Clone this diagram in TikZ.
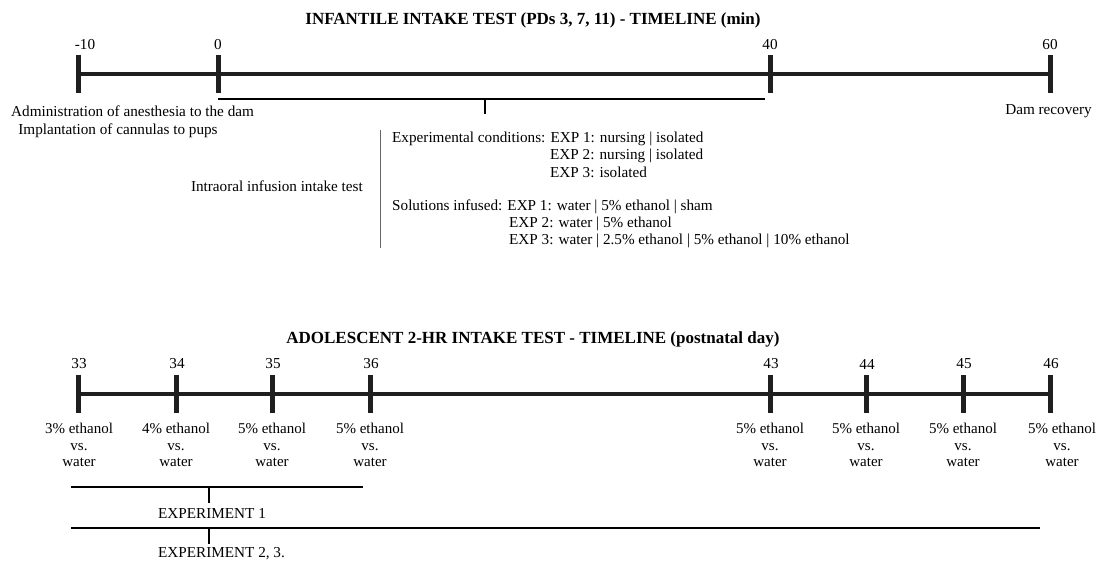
\documentclass[tikz,border=0pt]{standalone}
\usepackage{fontspec}
\setmainfont{Liberation Serif}
\begin{document}
\begin{tikzpicture}[x=1pt,y=-1pt,
  tickn/.style={rectangle, fill=black!88, draw=none, minimum width=5pt, minimum height=38pt, inner sep=0pt},
  axis/.style={line width=4.5pt, draw=black!88},
  bracket/.style={line width=2.2pt, draw=black},
  thin/.style={line width=2pt, draw=black},
  sep/.style={line width=0.8pt, draw=black!60},
  lbl/.style={font=\fontsize{15.2}{17}\selectfont, inner sep=0pt},
  small/.style={font=\fontsize{15.2}{17}\selectfont, inner sep=0pt},
  ttl/.style={font=\fontsize{17}{19}\selectfont\bfseries, inner sep=0pt},
  three/.style={font=\fontsize{15}{16.5}\selectfont, inner sep=0pt, align=center, anchor=north}]
\useasboundingbox (0,0) rectangle (1097,562);

% ---------- Infantile timeline ----------
\node[ttl] (t1) at (533,20) {INFANTILE INTAKE TEST (PDs 3, 7, 11) - TIMELINE (min)};
\node[tickn] (a1) at (78,74) {};
\node[tickn] (a2) at (218,74) {};
\node[tickn] (a3) at (770,74) {};
\node[tickn] (a4) at (1050,74) {};
\draw[axis] (a1.center) -- (a4.center);
\node[lbl] (n1) at (85,45) {-10};
\node[lbl] (n2) at (218,45) {0};
\node[lbl] (n3) at (770,45) {40};
\node[lbl] (n4) at (1050,45) {60};
\node[lbl, anchor=west] (adm) at (11,111) {Administration of anesthesia to the dam};
\node[lbl] (imp) at (118,131) {Implantation of cannulas to pups};
\node[lbl, anchor=east] (dam) at (1092,111) {Dam recovery};

\coordinate (b1) at (218,99);
\coordinate (b2) at (765,99);
\coordinate (bm) at (485,99);
\coordinate (bt) at (485,114);
\draw[thin] (b1) -- (b2);
\draw[thin] (bm) -- (bt);

\coordinate (v1) at (380,130);
\coordinate (v2) at (380,248);
\draw[sep] (v1) -- (v2);
\node[small, anchor=east] (iit) at (363,186) {Intraoral infusion intake test};
\node[small, anchor=west] (ec1) at (392,139) {Experimental conditions: EXP 1: nursing | isolated};
\node[small, anchor=west] (ec2) at (550,156) {EXP 2: nursing | isolated};
\node[small, anchor=west] (ec3) at (550,172) {EXP 3: isolated};
\node[small, anchor=west] (si1) at (392,207) {Solutions infused: EXP 1: water | 5\% ethanol | sham};
\node[small, anchor=west] (si2) at (509,224) {EXP 2: water | 5\% ethanol};
\node[small, anchor=west] (si3) at (509,241) {EXP 3: water | 2.5\% ethanol | 5\% ethanol | 10\% ethanol};

% ---------- Adolescent timeline ----------
\node[ttl] (t2) at (533,339) {ADOLESCENT 2-HR INTAKE TEST - TIMELINE (postnatal day)};
\foreach \x/\d [count=\i] in {78/33,176/34,272/35,370/36,770/43,866/44,963/45,1050/46}{
  \node[tickn] (d\i) at (\x,394) {};
  \node[lbl] (dl\i) at (\x+1,364) {\d};
}
\draw[axis] (d1.center) -- (d8.center);
\foreach \x/\p [count=\i] in {79/3,176/4,272/5,370/5,770/5,866/5,963/5,1062/5}{
  \node[three] (s\i) at (\x,423) {\p\% ethanol\\vs.\\water};
}

\coordinate (e1a) at (71,487);
\coordinate (e1b) at (363,487);
\coordinate (e1m) at (209,487);
\coordinate (e1t) at (209,503);
\draw[bracket] (e1a) -- (e1b);
\draw[thin, line width=1.6pt] (e1m) -- (e1t);
\node[small, anchor=west] (x1) at (158,513) {EXPERIMENT 1};

\coordinate (e2a) at (71,528);
\coordinate (e2b) at (1040,528);
\coordinate (e2m) at (209,528);
\coordinate (e2t) at (209,544);
\draw[bracket] (e2a) -- (e2b);
\draw[thin, line width=1.6pt] (e2m) -- (e2t);
\node[small, anchor=west] (x2) at (158,554) {EXPERIMENT 2, 3.};
\end{tikzpicture}
\end{document}
